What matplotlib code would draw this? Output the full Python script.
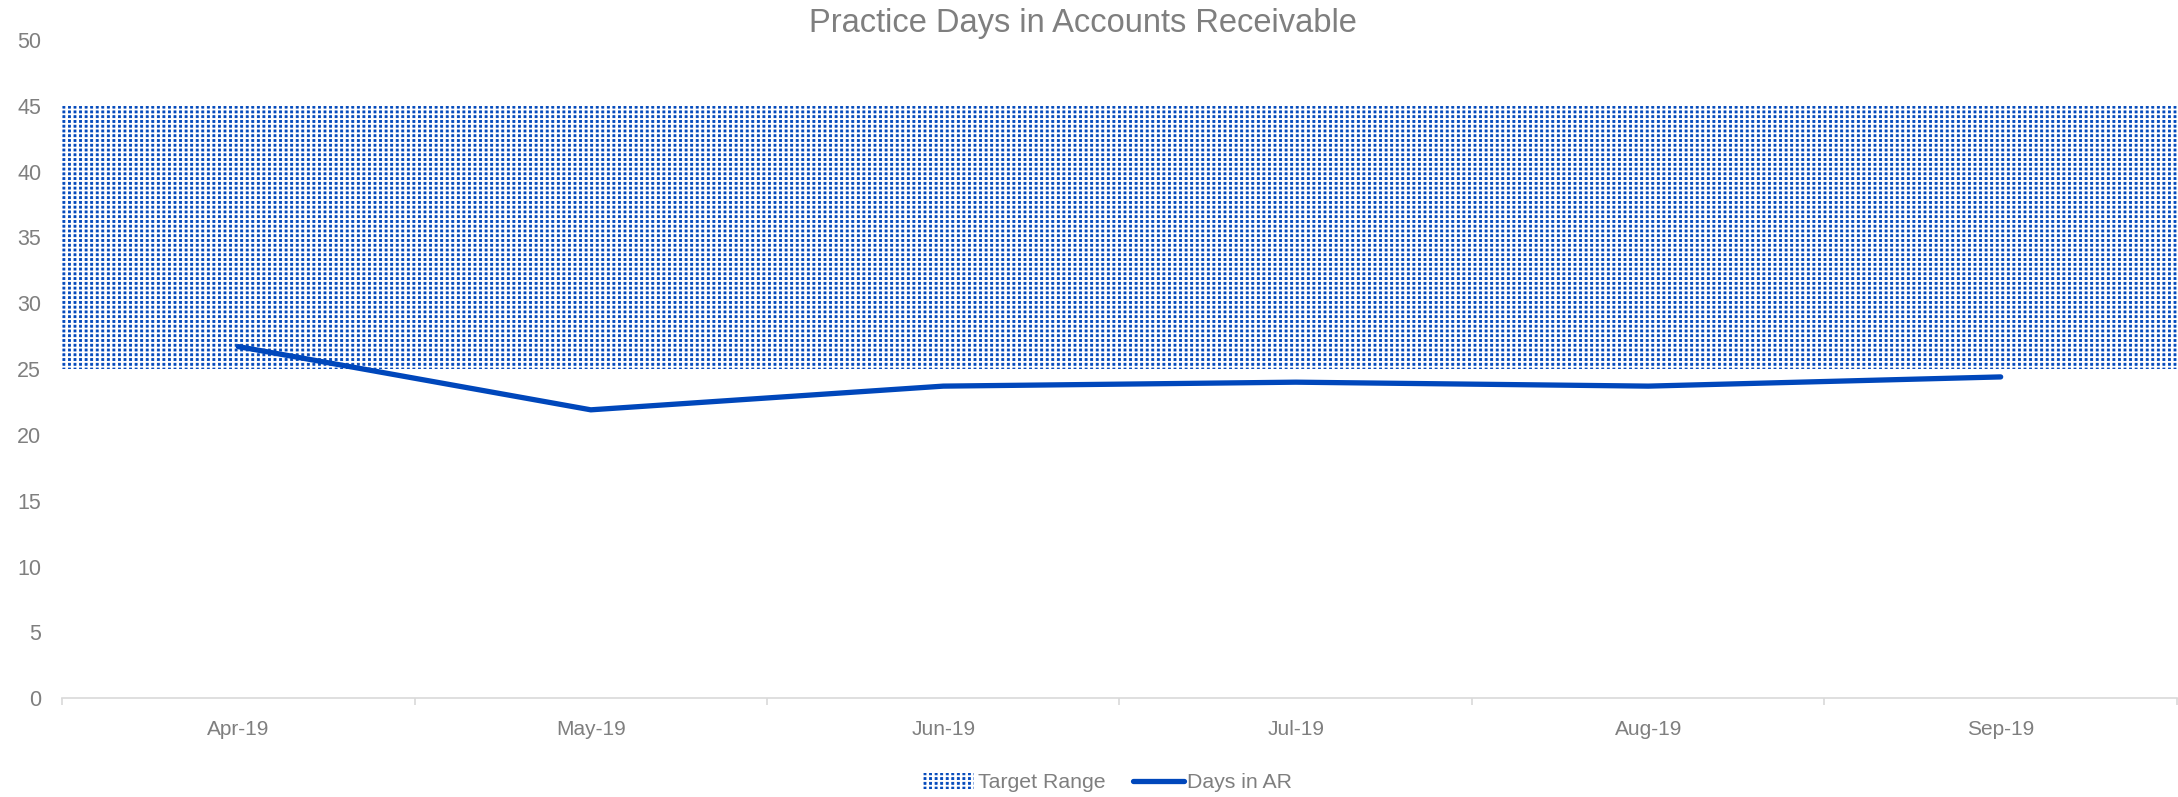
import matplotlib
matplotlib.use("Agg")
import matplotlib.hatch as mhatch
import matplotlib.pyplot as plt
import numpy as np
from matplotlib.lines import Line2D
from matplotlib.patches import Patch
from matplotlib.path import Path

months = ["Apr-19", "May-19", "Jun-19", "Jul-19", "Aug-19", "Sep-19"]
days_in_ar = [26.7, 21.9, 23.7, 24.0, 23.7, 24.4]
target_low = 25
target_high = 45
y_ticks = [0, 5, 10, 15, 20, 25, 30, 35, 40, 45, 50]

blue = "#0047BB"
grey = "#7f7f7f"
axis_grey = "#d9d9d9"


class DotGrid(mhatch.HatchPatternBase):
    """Excel-like dotted fill: square dots on an aligned grid for '.' hatches."""

    def __init__(self, hatch, density):
        n = hatch.count(".")
        self.cols = 6 * n if n else 0
        self.rows = 7 * n if n else 0
        self.size = 0.02
        self.num_vertices = self.cols * self.rows * 5

    def set_vertices_and_codes(self, vertices, codes):
        s = self.size / 2
        square = np.array([[-s, -s], [s, -s], [s, s], [-s, s], [-s, -s]])
        sq_codes = [Path.MOVETO, Path.LINETO, Path.LINETO, Path.LINETO,
                    Path.CLOSEPOLY]
        parts, cparts = [], []
        for r in range(self.rows):
            for c in range(self.cols):
                parts.append(square + [(c + 0.5) / self.cols,
                                       (r + 0.5) / self.rows])
                cparts.append(sq_codes)
        np.concatenate(parts, out=vertices)
        np.concatenate(cparts, out=codes)


# swap the staggered filled-circle pattern for the grid of dots
mhatch._hatch_types = [DotGrid if t is mhatch.SmallFilledCircles else t
                       for t in mhatch._hatch_types]

plt.rcParams["font.family"] = ["Liberation Sans", "DejaVu Sans"]
plt.rcParams["hatch.linewidth"] = 0.6

fig = plt.figure(figsize=(21.78, 7.97), dpi=100)
ax = fig.add_axes([0.0285, 0.124, 0.971, 0.826])

x = np.arange(len(months))
ax.axhspan(target_low, target_high, facecolor="white", edgecolor=blue,
           hatch="...", linewidth=0, zorder=1)
ax.plot(x, days_in_ar, color=blue, linewidth=3.8, solid_capstyle="round",
        zorder=3)

ax.set_xlim(-0.5, len(months) - 0.5)
ax.set_ylim(0, 50)
ax.set_yticks(y_ticks)
ax.set_xticks(x)
ax.set_xticklabels(months)
ax.set_xticks(np.arange(-0.5, len(months)), minor=True)

for side in ("top", "right", "left"):
    ax.spines[side].set_visible(False)
ax.spines["bottom"].set_color(axis_grey)
ax.spines["bottom"].set_linewidth(1.2)

ax.tick_params(axis="y", length=0, pad=15, labelsize=15.5, labelcolor=grey)
ax.tick_params(axis="x", which="major", length=0, pad=16, labelsize=15,
               labelcolor=grey)
ax.tick_params(axis="x", which="minor", length=5, width=1.2, color=axis_grey)

fig.text(0.497, 0.97, "Practice Days in Accounts Receivable", ha="center",
         va="center", fontsize=23.5, color=grey)

handles = [
    Patch(facecolor="white", edgecolor=blue, hatch="...", linewidth=0,
          label="Target Range"),
    Line2D([0], [0], color=blue, linewidth=3.8, solid_capstyle="round",
           label="Days in AR"),
]
fig.legend(handles=handles, loc="center", bbox_to_anchor=(0.5086, 0.018),
           ncol=2, frameon=False, fontsize=15.3, labelcolor=grey,
           handlelength=2.4, handleheight=0.8, handletextpad=0.15,
           columnspacing=1.3)

fig.savefig("out.png", dpi=100)
